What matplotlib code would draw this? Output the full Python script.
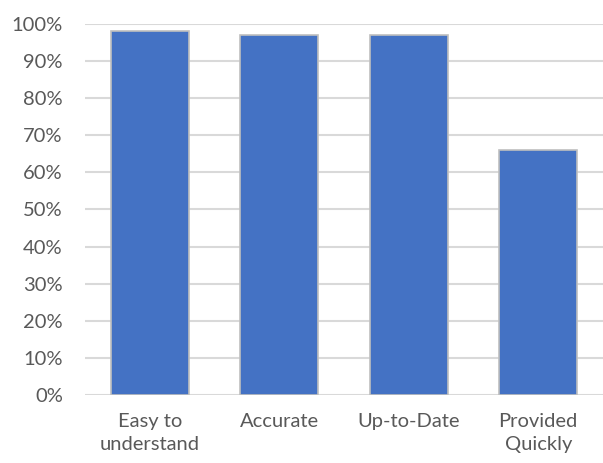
import matplotlib
matplotlib.use("Agg")
import matplotlib.pyplot as plt
from matplotlib.ticker import FuncFormatter, MultipleLocator

categories = ["Easy to\nunderstand", "Accurate", "Up-to-Date", "Provided\nQuickly"]
values = [0.98, 0.97, 0.97, 0.66]

plt.rcParams["font.family"] = ["Lato", "DejaVu Sans"]

fig = plt.figure(figsize=(6.03, 4.63), dpi=100)
ax = fig.add_axes([85 / 603, 1 - 395 / 463, 518 / 603, (395 - 24) / 463])

x = range(len(categories))
ax.bar(x, values, width=0.6, color="#4472C4", edgecolor="#BFBFBF", linewidth=1.2, zorder=3)

ax.set_xlim(-0.5, 3.5)
ax.set_ylim(0, 1.0)
ax.yaxis.set_major_locator(MultipleLocator(0.1))
ax.yaxis.set_major_formatter(FuncFormatter(lambda v, p: f"{v * 100:.0f}%"))
ax.grid(axis="y", color="#D9D9D9", linewidth=1.5, zorder=0)
ax.set_xticks(list(x))
ax.set_xticklabels(categories, linespacing=1.45)

for s in ax.spines.values():
    s.set_visible(False)
ax.tick_params(axis="both", length=0, labelsize=14.5, colors="#595959")
ax.tick_params(axis="x", pad=13)
ax.tick_params(axis="y", pad=16)

fig.savefig("out.png", dpi=100)
